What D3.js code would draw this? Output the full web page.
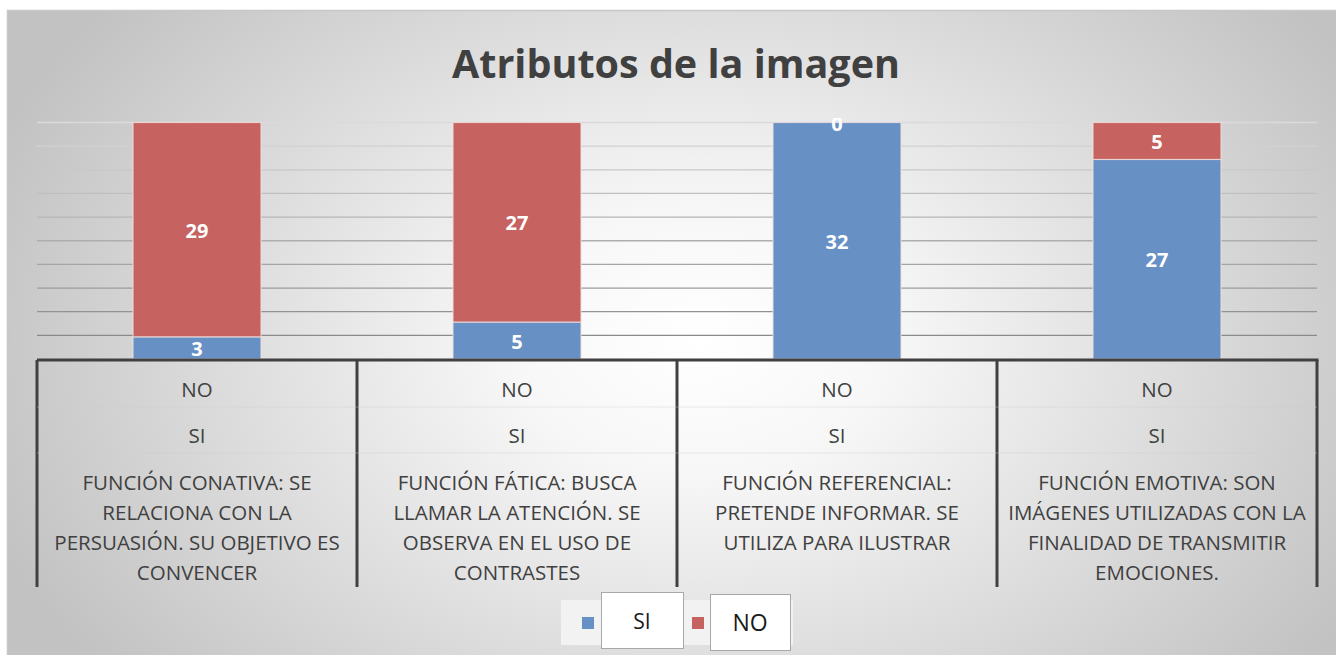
<!DOCTYPE html>
<html>
<head>
<meta charset="utf-8">
<script src="https://cdn.jsdelivr.net/npm/d3@7"></script>
<style>
  html, body { margin: 0; padding: 0; background: #fff; }
  svg { display: block; font-family: "Open Sans", "Noto Sans", sans-serif; }
</style>
</head>
<body>
<svg id="chart" width="1336" height="655"></svg>
<script>
// Atributos de la imagen - stacked bars (SI / NO) per function of the image

const categories = ['conativa', 'fatica', 'referencial', 'emotiva'];
const categoryLines = [
    ['FUNCIÓN CONATIVA: SE', 'RELACIONA CON LA', 'PERSUASIÓN. SU OBJETIVO ES', 'CONVENCER'],
    ['FUNCIÓN FÁTICA: BUSCA', 'LLAMAR LA ATENCIÓN. SE', 'OBSERVA EN EL USO DE', 'CONTRASTES'],
    ['FUNCIÓN REFERENCIAL:', 'PRETENDE INFORMAR. SE', 'UTILIZA PARA ILUSTRAR'],
    ['FUNCIÓN EMOTIVA: SON', 'IMÁGENES UTILIZADAS CON LA', 'FINALIDAD DE TRANSMITIR', 'EMOCIONES.']
];
const siValues = [3, 5, 32, 27];
const noValues = [29, 27, 0, 5];
const seriesNames = ['SI', 'NO'];
const seriesColors = ['#6790c5', '#c6625f'];
const subLabels = ['NO', 'SI'];
const yMax = 32;
const gridStep = 3.2;

const svg = d3.select('#chart');
const W = 1336, H = 655;

// background
const defs = svg.append('defs');
const bg = defs.append('radialGradient')
    .attr('id', 'bg')
    .attr('gradientUnits', 'userSpaceOnUse')
    .attr('cx', 700).attr('cy', 340).attr('r', 760)
    .attr('gradientTransform', 'translate(700,340) scale(1,0.7) translate(-700,-340)');
bg.append('stop').attr('offset', '0%').attr('stop-color', '#ffffff');
bg.append('stop').attr('offset', '25%').attr('stop-color', '#f7f7f7');
bg.append('stop').attr('offset', '100%').attr('stop-color', '#c2c2c2');

defs.append('clipPath').attr('id', 'plotclip')
    .append('rect').attr('x', 0).attr('y', 118).attr('width', W).attr('height', 242);

svg.append('rect')
    .attr('x', 7.5).attr('y', 10.5)
    .attr('width', W).attr('height', H)
    .attr('fill', 'url(#bg)')
    .attr('stroke', '#c8c8c8')
    .attr('stroke-width', 1.5);

// title
svg.append('text')
    .attr('x', 676).attr('y', 78)
    .attr('text-anchor', 'middle')
    .attr('font-size', 39.5)
    .attr('font-weight', 700)
    .attr('fill', '#404040')
    .text('Atributos de la imagen');

// scales
const x = d3.scaleBand().domain(categories).range([37, 1317]).padding(0);
const y = d3.scaleLinear().domain([0, yMax]).range([359, 122.5]);
const barW = x.bandwidth() * 0.4;

// gridlines
const gridTicks = d3.range(1, 11).map(i => i * gridStep);
const gridColor = d3.scaleLinear().domain([gridStep, yMax]).range(['#8a8a8a', '#dadada']);
svg.append('g')
    .selectAll('line')
    .data(gridTicks)
    .join('line')
    .attr('x1', 37).attr('x2', 1317)
    .attr('y1', d => y(d)).attr('y2', d => y(d))
    .attr('stroke', d => gridColor(d))
    .attr('stroke-width', 1.3);

// stacked bars
const rows = categories.map((c, i) => ({ cat: c, SI: siValues[i], NO: noValues[i] }));
const stack = d3.stack().keys(seriesNames)(rows);

const layers = svg.append('g')
    .attr('clip-path', 'url(#plotclip)')
    .selectAll('g')
    .data(stack)
    .join('g')
    .attr('fill', (d, i) => seriesColors[i]);

layers.selectAll('rect')
    .data(d => d)
    .join('rect')
    .attr('x', d => x(d.data.cat) + (x.bandwidth() - barW) / 2)
    .attr('width', barW)
    .attr('y', d => y(d[1]))
    .attr('height', d => y(d[0]) - y(d[1]))
    .attr('stroke', '#f0dede')
    .attr('stroke-opacity', d => (d[1] - d[0]) > 0 ? 0.8 : 0)
    .attr('stroke-width', 1.2);

// data labels
layers.selectAll('text')
    .data(d => d)
    .join('text')
    .attr('x', d => x(d.data.cat) + x.bandwidth() / 2)
    .attr('y', d => (y(d[0]) + y(d[1])) / 2 + 8)
    .attr('text-anchor', 'middle')
    .attr('font-size', 20)
    .attr('font-weight', 700)
    .attr('fill', '#fff')
    .text(d => d[1] - d[0]);

// category axis (multi-level)
const axis = svg.append('g');
axis.append('line')
    .attr('x1', 37).attr('x2', 1318.5)
    .attr('y1', 360).attr('y2', 360)
    .attr('stroke', '#404040').attr('stroke-width', 3);

const seps = categories.map(c => x(c)).concat([x.range()[1]]);
axis.selectAll('line.sep')
    .data(seps)
    .join('line')
    .attr('class', 'sep')
    .attr('x1', d => d).attr('x2', d => d)
    .attr('y1', 360).attr('y2', 587)
    .attr('stroke', '#404040').attr('stroke-width', 3);

axis.selectAll('line.level')
    .data([407, 453])
    .join('line')
    .attr('class', 'level')
    .attr('x1', 37).attr('x2', 1317)
    .attr('y1', d => d).attr('y2', d => d)
    .attr('stroke', '#d0d0d0').attr('stroke-opacity', 0.4).attr('stroke-width', 1);

const cat = axis.selectAll('g.cat')
    .data(categories)
    .join('g')
    .attr('class', 'cat')
    .attr('transform', d => `translate(${x(d) + x.bandwidth() / 2},0)`);

cat.selectAll('text.sub')
    .data(subLabels)
    .join('text')
    .attr('class', 'sub')
    .attr('y', (d, i) => 397 + i * 46)
    .attr('text-anchor', 'middle')
    .attr('font-size', 20.5)
    .attr('fill', '#404040')
    .text(d => d);

cat.append('text')
    .attr('text-anchor', 'middle')
    .attr('font-size', 20.5)
    .attr('fill', '#404040')
    .selectAll('tspan')
    .data((d, i) => categoryLines[i])
    .join('tspan')
    .attr('x', 0)
    .attr('y', (d, i) => 490 + i * 30)
    .text(d => d);

// legend
const legend = svg.append('g');
legend.append('rect')
    .attr('x', 561).attr('y', 600)
    .attr('width', 232).attr('height', 45)
    .attr('fill', '#f2f2f2');

const legendItems = [
    { name: seriesNames[0], color: seriesColors[0], sx: 582, bx: 601, bw: 82, by: 592, bh: 56, fs: 21 },
    { name: seriesNames[1], color: seriesColors[1], sx: 692, bx: 710, bw: 80, by: 594, bh: 56, fs: 23 }
];
const li = legend.selectAll('g')
    .data(legendItems)
    .join('g');
li.append('rect')
    .attr('x', d => d.sx).attr('y', 617)
    .attr('width', 12).attr('height', 12)
    .attr('fill', d => d.color);
li.append('rect')
    .attr('x', d => d.bx + 0.5).attr('y', d => d.by + 0.5)
    .attr('width', d => d.bw).attr('height', d => d.bh)
    .attr('fill', '#fff')
    .attr('stroke', '#a8a8a8')
    .attr('stroke-width', 1);
li.append('text')
    .attr('x', d => d.bx + d.bw / 2)
    .attr('y', d => d.by + 37)
    .attr('text-anchor', 'middle')
    .attr('font-size', d => d.fs)
    .attr('fill', '#1a1a1a')
    .text(d => d.name);
</script>
</body>
</html>
